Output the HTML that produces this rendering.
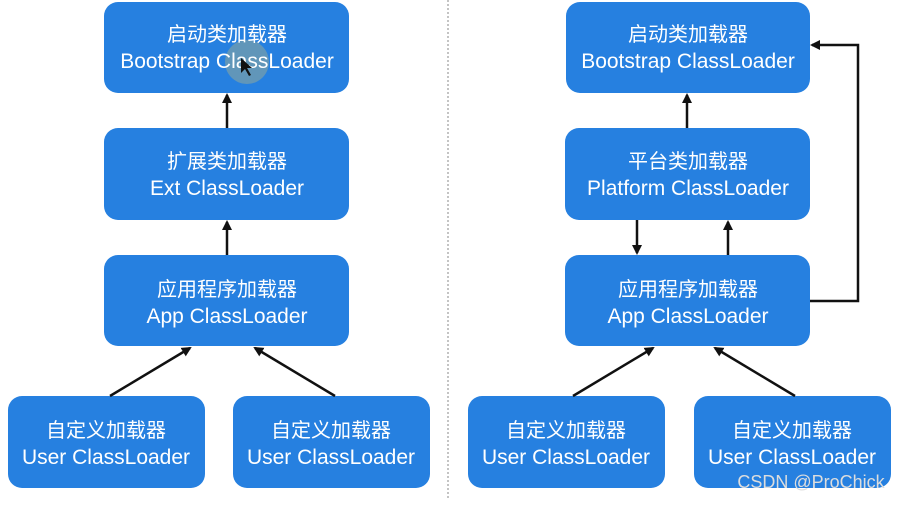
<!DOCTYPE html>
<html><head><meta charset="utf-8"><style>
body{margin:0;background:#fff;}
svg text{font-family:"Liberation Sans","Noto Sans CJK SC",sans-serif;font-size:21px;fill:#fff;text-anchor:middle;}
svg text.c{font-size:20px;}
</style></head><body>
<svg width="903" height="500" viewBox="0 0 903 500" xmlns="http://www.w3.org/2000/svg">
<defs><marker id="a" markerWidth="10" markerHeight="10" refX="8" refY="5" orient="auto" markerUnits="userSpaceOnUse"><path d="M0,0 L10,5 L0,10 z" fill="#111"/></marker></defs>
<line x1="448" y1="0" x2="448" y2="500" stroke="#888" stroke-width="1" stroke-dasharray="2,2"/>
<g fill="#2680e0">
<rect x="104" y="2" width="245" height="91" rx="14"/>
<rect x="104" y="128" width="245" height="92" rx="14"/>
<rect x="104" y="255" width="245" height="91" rx="14"/>
<rect x="8" y="396" width="197" height="92" rx="14"/>
<rect x="233" y="396" width="197" height="92" rx="14"/>
<rect x="566" y="2" width="244" height="91" rx="14"/>
<rect x="565" y="128" width="245" height="92" rx="14"/>
<rect x="565" y="255" width="245" height="91" rx="14"/>
<rect x="468" y="396" width="197" height="92" rx="14"/>
<rect x="694" y="396" width="197" height="92" rx="14"/>
</g>
<circle cx="247" cy="62" r="22" fill="#7aa0a8" opacity="0.7"/>
<g stroke="#111" stroke-width="2.5" fill="none" marker-end="url(#a)">
<line x1="227" y1="128" x2="227" y2="95"/>
<line x1="227" y1="255" x2="227" y2="222"/>
<line x1="110" y1="396" x2="190" y2="348"/>
<line x1="335" y1="396" x2="255" y2="348"/>
<line x1="687" y1="128" x2="687" y2="95"/>
<line x1="637" y1="220" x2="637" y2="253"/>
<line x1="728" y1="255" x2="728" y2="222"/>
<line x1="573" y1="396" x2="653" y2="348"/>
<line x1="795" y1="396" x2="715" y2="348"/>
<polyline points="810,301 858,301 858,45 812,45"/>
</g>
<text class="c" x="227" y="41">启动类加载器</text><text x="227" y="68">Bootstrap ClassLoader</text>
<text class="c" x="227" y="168">扩展类加载器</text><text x="227" y="195">Ext ClassLoader</text>
<text class="c" x="227" y="296">应用程序加载器</text><text x="227" y="323">App ClassLoader</text>
<text class="c" x="106" y="437">自定义加载器</text><text x="106" y="464">User ClassLoader</text>
<text class="c" x="331" y="437">自定义加载器</text><text x="331" y="464">User ClassLoader</text>
<text class="c" x="688" y="41">启动类加载器</text><text x="688" y="68">Bootstrap ClassLoader</text>
<text class="c" x="688" y="168">平台类加载器</text><text x="688" y="195">Platform ClassLoader</text>
<text class="c" x="688" y="296">应用程序加载器</text><text x="688" y="323">App ClassLoader</text>
<text class="c" x="566" y="437">自定义加载器</text><text x="566" y="464">User ClassLoader</text>
<text class="c" x="792" y="437">自定义加载器</text><text x="792" y="464">User ClassLoader</text>
<path d="M241,58 L241,73 L245,69 L249,76 L251,75 L247,68 L252,68 Z" fill="#111"/>
<text x="811" y="488" style="fill:#ddd;font-size:18px;">CSDN @ProChick</text>
</svg>
</body></html>
